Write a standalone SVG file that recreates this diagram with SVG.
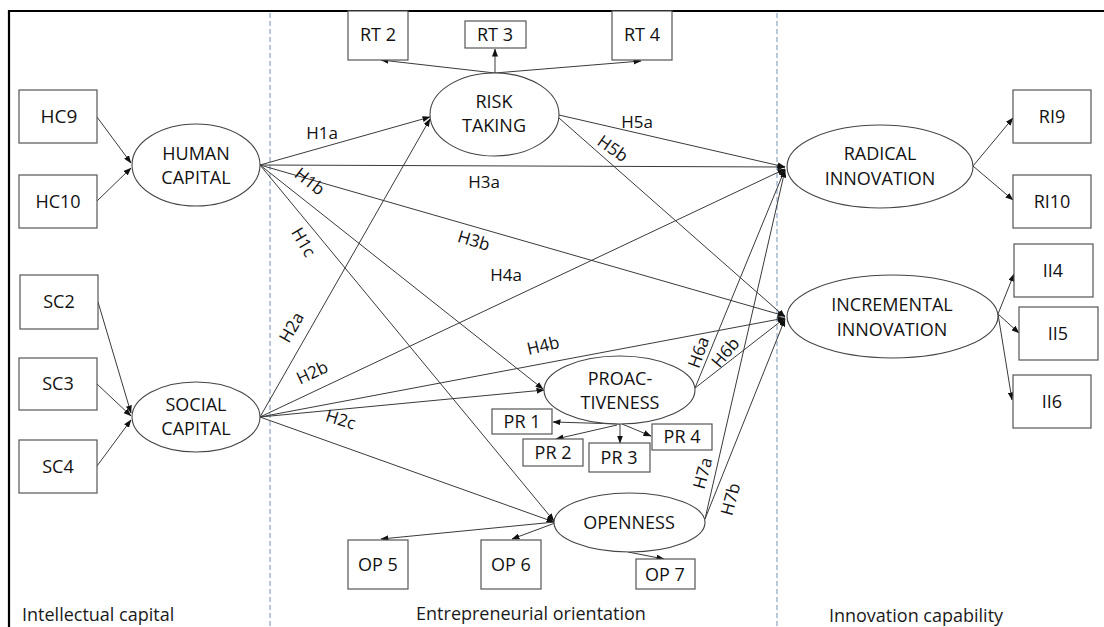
<svg xmlns="http://www.w3.org/2000/svg" width="1104" height="627" viewBox="0 0 1104 627">
  <style>
    .box { fill: #fff; stroke: #555; stroke-width: 1.2; }
    .lv { fill: #fff; stroke: #444; stroke-width: 1.1; }
    .t { font-family: "Open Sans", "Liberation Sans", sans-serif; font-size: 18px; fill: #111; text-anchor: middle; }
    .h { font-family: "Open Sans", "Liberation Sans", sans-serif; font-size: 17px; fill: #111; text-anchor: middle; dominant-baseline: central; }
    .sec { font-family: "Open Sans", "Liberation Sans", sans-serif; font-size: 18px; fill: #1a1a1a; }
    .c { fill: none; stroke: #3a3a3a; stroke-width: 1; marker-end: url(#ah); }
    .div { stroke: #8fa3c4; stroke-width: 1.2; stroke-dasharray: 5 3; }
  </style>
  <defs>
    <marker id="ah" markerWidth="8" markerHeight="6" refX="7.5" refY="3" orient="auto" markerUnits="userSpaceOnUse">
      <path d="M0,0 L8,3 L0,6 Z" fill="#111"/>
    </marker>
  </defs>

  <rect x="0" y="0" width="1104" height="627" fill="#fff"/>

  <!-- frame and section dividers -->
  <g id="frame">
    <line x1="9" y1="11" x2="1104" y2="11" stroke="#000" stroke-width="2.2"/>
    <line x1="9" y1="10" x2="9" y2="627" stroke="#000" stroke-width="2.2"/>
    <line class="div" x1="270" y1="13" x2="270" y2="627"/>
    <line class="div" x1="777" y1="13" x2="777" y2="627"/>
  </g>

  <!-- connectors -->
  <g id="connectors">
    <!-- indicators into human / social capital -->
    <line class="c" x1="97" y1="117" x2="131" y2="163"/>
    <line class="c" x1="97" y1="201" x2="131" y2="168"/>
    <line class="c" x1="98" y1="302" x2="131" y2="413"/>
    <line class="c" x1="97" y1="384" x2="131" y2="416"/>
    <line class="c" x1="97" y1="466" x2="131" y2="420"/>
    <!-- human capital paths -->
    <line class="c" x1="260" y1="165" x2="430" y2="117"/>
    <line class="c" x1="260" y1="165" x2="785" y2="167"/>
    <line class="c" x1="260" y1="165" x2="785" y2="316"/>
    <line class="c" x1="260" y1="165" x2="543" y2="389"/>
    <line class="c" x1="260" y1="165" x2="554" y2="521"/>
    <!-- social capital paths -->
    <line class="c" x1="260" y1="417" x2="430" y2="119"/>
    <line class="c" x1="260" y1="417" x2="785" y2="169"/>
    <line class="c" x1="260" y1="417" x2="785" y2="318"/>
    <line class="c" x1="260" y1="417" x2="544" y2="390"/>
    <line class="c" x1="260" y1="417" x2="554" y2="522"/>
    <!-- risk taking paths -->
    <line class="c" x1="559" y1="115" x2="785" y2="167"/>
    <line class="c" x1="559" y1="118" x2="785" y2="317"/>
    <!-- proactiveness paths -->
    <line class="c" x1="695" y1="388" x2="785" y2="169"/>
    <line class="c" x1="695" y1="388" x2="785" y2="318"/>
    <!-- openness paths -->
    <line class="c" x1="705" y1="519" x2="785" y2="170"/>
    <line class="c" x1="705" y1="519" x2="785" y2="319"/>
    <!-- risk taking indicators -->
    <line class="c" x1="495" y1="73" x2="381" y2="60"/>
    <line class="c" x1="495" y1="73" x2="495" y2="49"/>
    <line class="c" x1="495" y1="73" x2="641" y2="61"/>
    <!-- proactiveness indicators -->
    <line class="c" x1="620" y1="424" x2="553" y2="422"/>
    <line class="c" x1="617" y1="425" x2="556" y2="439"/>
    <line class="c" x1="620" y1="424" x2="620" y2="443"/>
    <line class="c" x1="622" y1="424" x2="651" y2="436"/>
    <!-- openness indicators -->
    <line class="c" x1="555" y1="522" x2="381" y2="539"/>
    <line class="c" x1="555" y1="523" x2="512" y2="539"/>
    <line class="c" x1="628" y1="552" x2="664" y2="559"/>
    <!-- innovation indicators -->
    <line class="c" x1="973" y1="166" x2="1013" y2="118"/>
    <line class="c" x1="973" y1="166" x2="1013" y2="200"/>
    <line class="c" x1="998" y1="314" x2="1014" y2="274"/>
    <line class="c" x1="998" y1="314" x2="1019" y2="333"/>
    <line class="c" x1="998" y1="314" x2="1012" y2="400"/>
  </g>

  <!-- path labels -->
  <g id="path-labels">
    <text class="h" x="322" y="132">H1a</text>
    <text class="h" x="310" y="181" transform="rotate(38 310 181)">H1b</text>
    <text class="h" x="304" y="242" transform="rotate(60 304 242)">H1c</text>
    <text class="h" x="291" y="327" transform="rotate(-60 291 327)">H2a</text>
    <text class="h" x="312" y="372" transform="rotate(-25 312 372)">H2b</text>
    <text class="h" x="341" y="419" transform="rotate(17 341 419)">H2c</text>
    <text class="h" x="484" y="181">H3a</text>
    <text class="h" x="474" y="240" transform="rotate(17 474 240)">H3b</text>
    <text class="h" x="506" y="274">H4a</text>
    <text class="h" x="543" y="345" transform="rotate(-13 543 345)">H4b</text>
    <text class="h" x="637" y="121">H5a</text>
    <text class="h" x="613" y="148" transform="rotate(35 613 148)">H5b</text>
    <text class="h" x="698" y="352" transform="rotate(-70 698 352)">H6a</text>
    <text class="h" x="725" y="352" transform="rotate(-50 725 352)">H6b</text>
    <text class="h" x="702" y="473" transform="rotate(-75 702 473)">H7a</text>
    <text class="h" x="730" y="499" transform="rotate(-75 730 499)">H7b</text>
  </g>

  <!-- intellectual capital -->
  <g id="HC9"><rect class="box" x="19" y="90" width="78" height="53"/><text class="t" x="59" y="123" style="font-size:19px">HC9</text></g>
  <g id="HC10"><rect class="box" x="19" y="175" width="78" height="53"/><text class="t" x="58" y="208">HC10</text></g>
  <g id="human-capital"><ellipse class="lv" cx="196" cy="165" rx="64" ry="41"/><text class="t" x="196" y="160">HUMAN</text><text class="t" x="196" y="184">CAPITAL</text></g>
  <g id="SC2"><rect class="box" x="20" y="275" width="78" height="54"/><text class="t" x="59" y="308">SC2</text></g>
  <g id="SC3"><rect class="box" x="19" y="358" width="78" height="52"/><text class="t" x="58" y="390">SC3</text></g>
  <g id="SC4"><rect class="box" x="19" y="440" width="78" height="53"/><text class="t" x="58" y="473">SC4</text></g>
  <g id="social-capital"><ellipse class="lv" cx="196" cy="417" rx="64" ry="35"/><text class="t" x="196" y="411">SOCIAL</text><text class="t" x="196" y="435">CAPITAL</text></g>

  <!-- entrepreneurial orientation -->
  <g id="RT2"><rect class="box" x="348" y="11" width="60" height="49"/><text class="t" x="378" y="41">RT 2</text></g>
  <g id="RT3"><rect class="box" x="465" y="21" width="61" height="27"/><text class="t" x="495" y="41">RT 3</text></g>
  <g id="RT4"><rect class="box" x="612" y="11" width="60" height="49"/><text class="t" x="642" y="41">RT 4</text></g>
  <g id="risk-taking"><ellipse class="lv" cx="494.5" cy="114.5" rx="64.5" ry="41.5"/><text class="t" x="494" y="108">RISK</text><text class="t" x="494" y="132">TAKING</text></g>
  <g id="proactiveness"><ellipse class="lv" cx="619.5" cy="390" rx="75.5" ry="34"/><text class="t" x="620" y="385">PROAC-</text><text class="t" x="620" y="409">TIVENESS</text></g>
  <g id="PR1"><rect class="box" x="492" y="409" width="60" height="25"/><text class="t" x="522" y="428">PR 1</text></g>
  <g id="PR2"><rect class="box" x="523" y="439" width="60" height="27"/><text class="t" x="553" y="459">PR 2</text></g>
  <g id="PR3"><rect class="box" x="589" y="443" width="61" height="29"/><text class="t" x="619" y="464">PR 3</text></g>
  <g id="PR4"><rect class="box" x="652" y="424" width="60" height="26"/><text class="t" x="682" y="443">PR 4</text></g>
  <g id="openness"><ellipse class="lv" cx="629.5" cy="522.5" rx="75.5" ry="29.5"/><text class="t" x="629" y="529">OPENNESS</text></g>
  <g id="OP5"><rect class="box" x="348" y="540" width="60" height="49"/><text class="t" x="378" y="571">OP 5</text></g>
  <g id="OP6"><rect class="box" x="481" y="540" width="60" height="49"/><text class="t" x="511" y="571">OP 6</text></g>
  <g id="OP7"><rect class="box" x="636" y="559" width="59" height="30"/><text class="t" x="665" y="581">OP 7</text></g>

  <!-- innovation capability -->
  <g id="radical-innovation"><ellipse class="lv" cx="880" cy="166.5" rx="93" ry="41.5"/><text class="t" x="880" y="160">RADICAL</text><text class="t" x="880" y="185">INNOVATION</text></g>
  <g id="RI9"><rect class="box" x="1013" y="90" width="78" height="53"/><text class="t" x="1052" y="123">RI9</text></g>
  <g id="RI10"><rect class="box" x="1013" y="175" width="78" height="53"/><text class="t" x="1052" y="208">RI10</text></g>
  <g id="incremental-innovation"><ellipse class="lv" cx="892.5" cy="316.5" rx="105.5" ry="41.5"/><text class="t" x="892" y="311">INCREMENTAL</text><text class="t" x="892" y="336">INNOVATION</text></g>
  <g id="II4"><rect class="box" x="1014" y="244" width="79" height="53"/><text class="t" x="1053" y="277">II4</text></g>
  <g id="II5"><rect class="box" x="1019" y="307" width="79" height="53"/><text class="t" x="1058" y="340">II5</text></g>
  <g id="II6"><rect class="box" x="1013" y="375" width="78" height="53"/><text class="t" x="1052" y="408">II6</text></g>

  <!-- section captions -->
  <g id="captions">
    <text class="sec" x="22" y="621">Intellectual capital</text>
    <text class="sec" x="531" y="620" text-anchor="middle">Entrepreneurial orientation</text>
    <text class="sec" x="916" y="622" text-anchor="middle">Innovation capability</text>
  </g>
</svg>
